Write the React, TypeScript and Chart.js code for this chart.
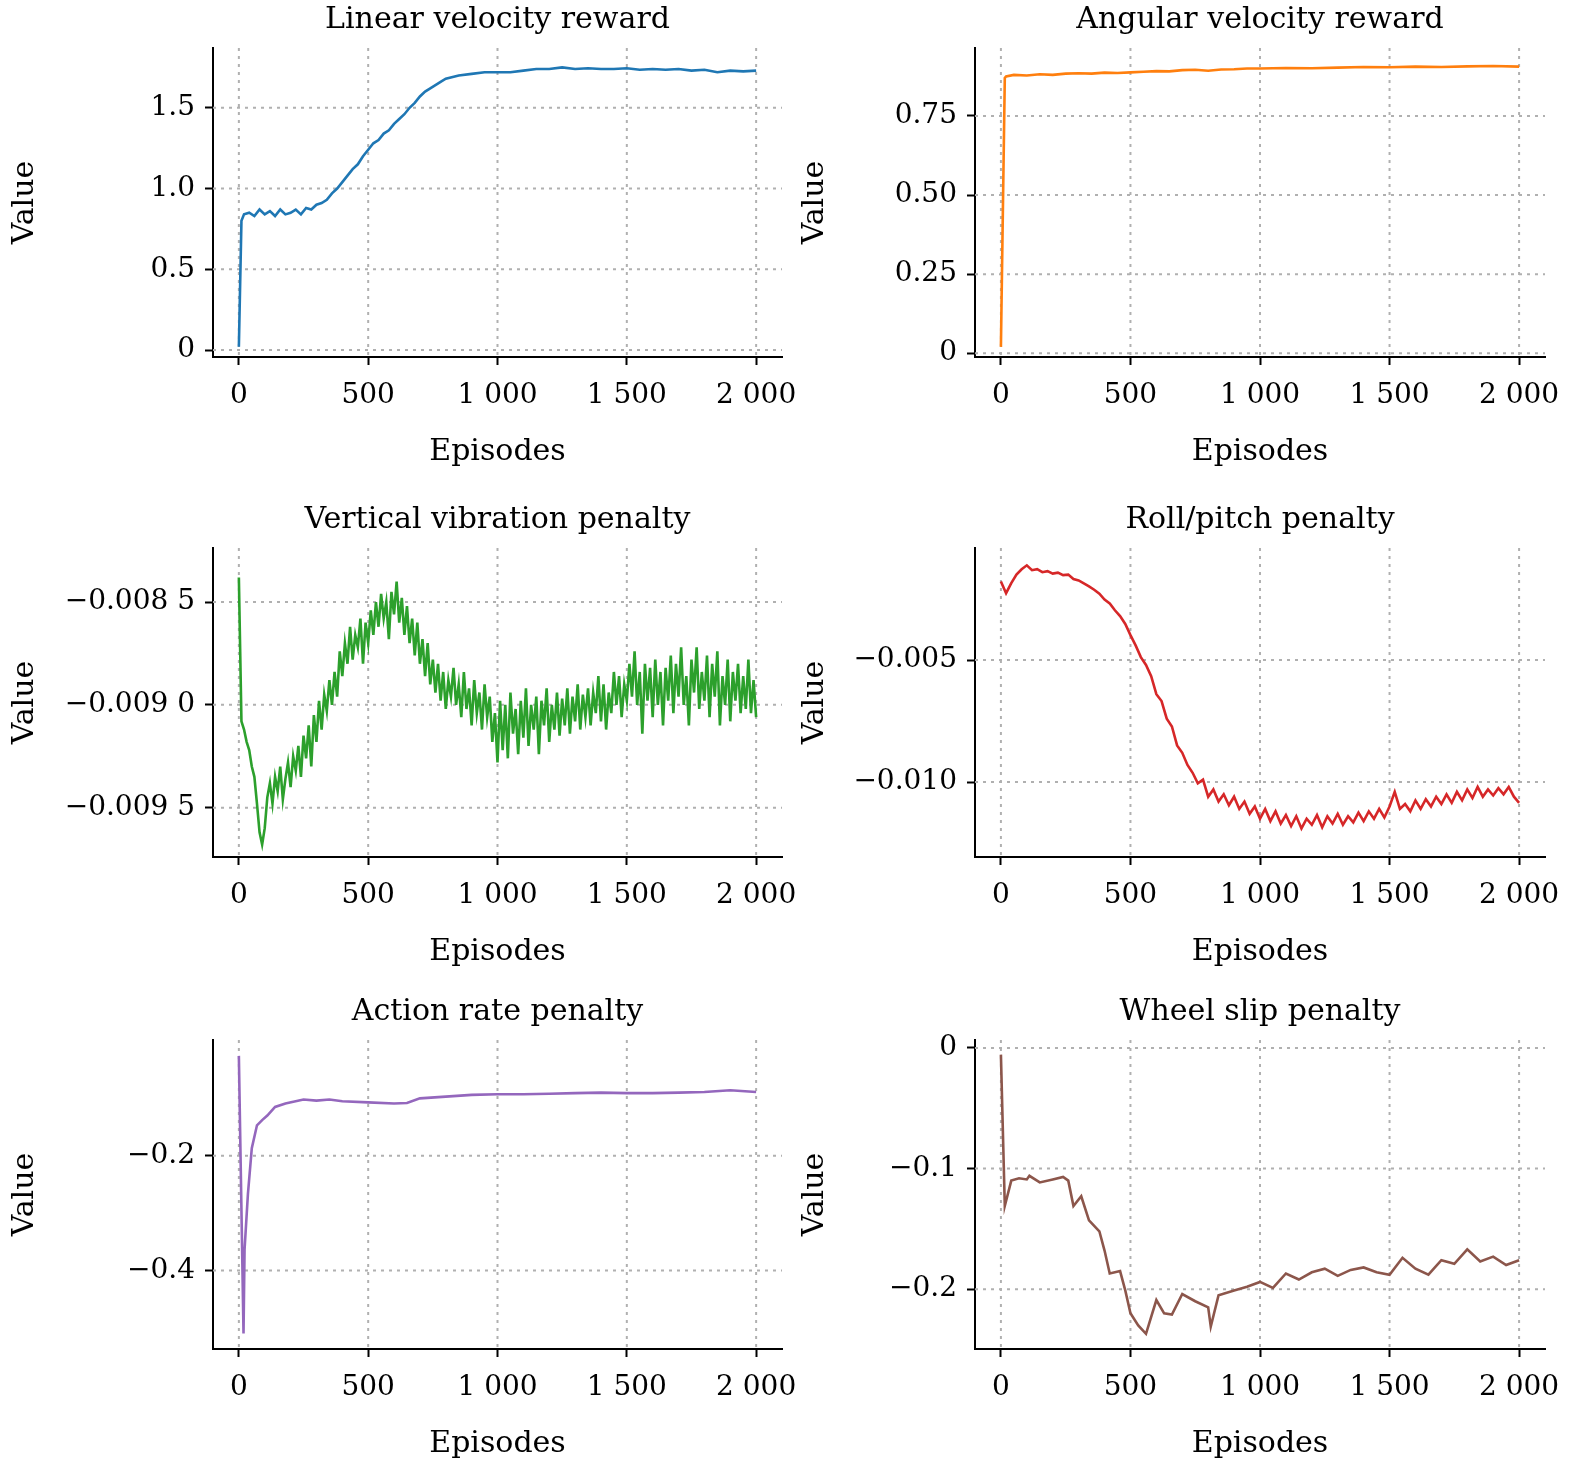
import React, { useEffect, useRef } from "react";
import { Chart, registerables } from "chart.js";
Chart.register(...registerables);

// ---------- data ----------
const X_TICKS = [0, 500, 1000, 1500, 2000];

const linEp = [0, 10, 20, 40, 60, 80, 100, 120, 140, 160, 180, 200, 220, 240, 260, 280, 300, 320, 340, 360, 380, 400, 420, 440, 460, 480, 500, 520, 540, 560, 580, 600, 620, 640, 660, 680, 700, 720, 740, 760, 780, 800, 850, 900, 950, 1000, 1050, 1100, 1150, 1200, 1250, 1300, 1350, 1400, 1450, 1500, 1550, 1600, 1650, 1700, 1750, 1800, 1850, 1900, 1950, 2000];
const linVal = [0.02, 0.8, 0.84, 0.85, 0.83, 0.87, 0.84, 0.86, 0.83, 0.87, 0.84, 0.85, 0.87, 0.84, 0.88, 0.87, 0.9, 0.91, 0.93, 0.97, 1.0, 1.04, 1.08, 1.12, 1.15, 1.2, 1.24, 1.28, 1.3, 1.34, 1.36, 1.4, 1.43, 1.46, 1.5, 1.53, 1.57, 1.6, 1.62, 1.64, 1.66, 1.68, 1.7, 1.71, 1.72, 1.72, 1.72, 1.73, 1.74, 1.74, 1.75, 1.74, 1.745, 1.74, 1.74, 1.745, 1.735, 1.74, 1.735, 1.74, 1.73, 1.735, 1.72, 1.73, 1.725, 1.73];

const angEp = [0, 15, 20, 50, 100, 150, 200, 250, 300, 350, 400, 450, 500, 550, 600, 650, 700, 750, 800, 850, 900, 950, 1000, 1100, 1200, 1300, 1400, 1500, 1600, 1700, 1800, 1900, 2000];
const angVal = [0.02, 0.87, 0.875, 0.88, 0.878, 0.882, 0.88, 0.884, 0.885, 0.884, 0.887, 0.886, 0.888, 0.89, 0.892, 0.891, 0.895, 0.896, 0.893, 0.897, 0.898, 0.9, 0.9, 0.902, 0.901, 0.903, 0.905, 0.904, 0.906, 0.905, 0.907, 0.908, 0.906];

// vertical vibration penalty, units of 1e-5, one value every 10 episodes (0..2000)
const VIB_STEP = 10;
const vibE5 = [
  -838, -908, -912, -918, -922, -930, -935, -948, -962, -968,
  -960, -945, -938, -948, -935, -942, -930, -946, -936, -928,
  -940, -925, -932, -920, -935, -915, -926, -910, -930, -905,
  -918, -898, -912, -895, -903, -888, -900, -884, -896, -874,
  -886, -870, -880, -862, -878, -866, -872, -858, -880, -860,
  -870, -854, -866, -850, -862, -846, -858, -850, -868, -845,
  -856, -840, -860, -848, -866, -852, -870, -858, -876, -860,
  -880, -868, -886, -870, -890, -878, -894, -880, -898, -884,
  -902, -888, -896, -882, -900, -890, -906, -884, -902, -892,
  -910, -888, -904, -894, -912, -890, -906, -896, -918, -904,
  -928, -898, -922, -900, -926, -894, -914, -902, -924, -898,
  -916, -892, -920, -900, -912, -896, -924, -898, -910, -892,
  -918, -900, -912, -894, -915, -897, -910, -892, -914, -896,
  -908, -890, -912, -895, -906, -892, -910, -894, -904, -886,
  -908, -890, -912, -894, -904, -884, -900, -886, -906, -890,
  -898, -880, -896, -874, -900, -884, -914, -880, -898, -882,
  -906, -878, -900, -884, -910, -882, -898, -876, -904, -880,
  -896, -872, -900, -886, -910, -878, -894, -872, -902, -884,
  -898, -876, -906, -880, -896, -874, -910, -886, -900, -878,
  -908, -884, -898, -880, -904, -886, -902, -878, -904, -888,
  -906,
];

// roll/pitch penalty, units of 1e-5, one value every 20 episodes
const ROLL_STEP = 20;
const rollE5 = [
  -178, -226, -185, -150, -128, -112, -132, -128, -140, -136,
  -146, -142, -152, -150, -168, -174, -186, -198, -212, -228,
  -252, -268, -296, -320, -352, -398, -440, -488, -520, -566,
  -640, -668, -740, -772, -850, -880, -930, -962, -1005, -990,
  -1060, -1030, -1080, -1050, -1095, -1060, -1110, -1080, -1130, -1100,
  -1150, -1110, -1160, -1120, -1170, -1135, -1180, -1140, -1190, -1150,
  -1175, -1135, -1185, -1140, -1170, -1130, -1175, -1140, -1165, -1125,
  -1160, -1120, -1150, -1110, -1145, -1100, -1040, -1110, -1090, -1120,
  -1075, -1110, -1070, -1100, -1060, -1090, -1050, -1085, -1040, -1075,
  -1030, -1065, -1020, -1060, -1030, -1055, -1025, -1050, -1020, -1060,
  -1085,
];

const actEp = [0, 18, 22, 35, 50, 70, 90, 110, 140, 180, 250, 300, 350, 400, 500, 600, 650, 700, 800, 900, 1000, 1100, 1200, 1300, 1400, 1500, 1600, 1700, 1800, 1900, 2000];
const actVal = [-0.026, -0.51, -0.364, -0.267, -0.187, -0.147, -0.138, -0.13, -0.115, -0.109, -0.102, -0.104, -0.102, -0.105, -0.107, -0.109, -0.108, -0.1, -0.097, -0.094, -0.093, -0.093, -0.092, -0.091, -0.09, -0.091, -0.091, -0.09, -0.089, -0.086, -0.089];

const slipEp = [0, 15, 40, 70, 100, 110, 150, 200, 240, 260, 280, 310, 340, 380, 400, 420, 460, 480, 500, 530, 560, 580, 600, 630, 660, 700, 750, 800, 810, 840, 900, 950, 1000, 1050, 1100, 1150, 1200, 1250, 1300, 1350, 1400, 1450, 1500, 1550, 1600, 1650, 1700, 1750, 1800, 1850, 1900, 1950, 2000];
const slipVal = [-0.0055, -0.131, -0.11, -0.108, -0.109, -0.106, -0.1115, -0.109, -0.107, -0.11, -0.131, -0.123, -0.143, -0.152, -0.168, -0.187, -0.185, -0.201, -0.22, -0.23, -0.237, -0.223, -0.209, -0.22, -0.221, -0.204, -0.21, -0.215, -0.231, -0.205, -0.201, -0.198, -0.194, -0.199, -0.187, -0.192, -0.186, -0.183, -0.189, -0.184, -0.182, -0.186, -0.188, -0.174, -0.183, -0.188, -0.176, -0.179, -0.167, -0.177, -0.173, -0.18, -0.176];

// ---------- helpers ----------
const FONT = "'DejaVu Serif', 'Liberation Serif', serif";
const minus = (s: string) => s.replace("-", "\u2212");
const fmtEp = (v: number) => (v >= 1000 ? `${Math.floor(v / 1000)} ${String(v % 1000).padStart(3, "0")}` : String(v));

type Panel = {
  title: string; color: string; xs: number[]; ys: number[];
  ymin: number; ymax: number; yticks: number[]; fmt: (v: number) => string;
  left: number; top: number; width: number; padTop: number; yWidth: number; padRight: number;
};

const pairs = (xs: number[], ys: number[]) => ys.map((y, i) => ({ x: xs[i], y }));
const stepXs = (n: number, step: number) => Array.from({ length: n }, (_, i) => i * step);

const panels: Panel[] = [
  { title: "Linear velocity reward", color: "#1f77b4", xs: linEp, ys: linVal, ymin: -0.043, ymax: 1.87, yticks: [0, 0.5, 1, 1.5],
    fmt: (v) => (v === 0 ? "0" : v.toFixed(1)), left: 0, top: 0, width: 810, padTop: 48, yWidth: 213, padRight: 28 },
  { title: "Angular velocity reward", color: "#ff7f0e", xs: angEp, ys: angVal, ymin: -0.012, ymax: 0.965, yticks: [0, 0.25, 0.5, 0.75],
    fmt: (v) => (v === 0 ? "0" : v.toFixed(2)), left: 790, top: 0, width: 785, padTop: 48, yWidth: 185, padRight: 30 },
  { title: "Vertical vibration penalty", color: "#2ca02c", xs: stepXs(vibE5.length, VIB_STEP), ys: vibE5.map((v) => v / 1e5), ymin: -0.00974, ymax: -0.008237, yticks: [-0.0095, -0.009, -0.0085],
    fmt: (v) => { const s = v.toFixed(4); return minus(s.slice(0, -1) + " " + s.slice(-1)); }, left: 0, top: 495, width: 810, padTop: 53, yWidth: 213, padRight: 28 },
  { title: "Roll/pitch penalty", color: "#d62728", xs: stepXs(rollE5.length, ROLL_STEP), ys: rollE5.map((v) => v / 1e5), ymin: -0.01307, ymax: -0.00041, yticks: [-0.01, -0.005],
    fmt: (v) => minus(v.toFixed(3)), left: 790, top: 495, width: 785, padTop: 53, yWidth: 185, padRight: 30 },
  { title: "Action rate penalty", color: "#9467bd", xs: actEp, ys: actVal, ymin: -0.537, ymax: 0.0017, yticks: [-0.4, -0.2],
    fmt: (v) => minus(v.toFixed(1)), left: 0, top: 995, width: 810, padTop: 45, yWidth: 213, padRight: 28 },
  { title: "Wheel slip penalty", color: "#8c564b", xs: slipEp, ys: slipVal, ymin: -0.2496, ymax: 0.0066, yticks: [-0.2, -0.1, 0],
    fmt: (v) => (v === 0 ? "0" : minus(v.toFixed(1))), left: 790, top: 995, width: 785, padTop: 45, yWidth: 185, padRight: 30 },
];

const AREA_H = 309;
const XAXIS_H = 120;

function PanelChart({ p }: { p: Panel }) {
  const ref = useRef<HTMLCanvasElement>(null);
  useEffect(() => {
    const deco = {
      id: "deco",
      beforeDatasetsDraw(chart: any) {
        const { ctx, chartArea: a, scales } = chart;
        ctx.save();
        ctx.strokeStyle = "#b0b0b0";
        ctx.lineWidth = 2;
        ctx.setLineDash([3, 5]);
        X_TICKS.forEach((v) => {
          const x = scales.x.getPixelForValue(v);
          ctx.beginPath(); ctx.moveTo(x, a.top); ctx.lineTo(x, a.bottom); ctx.stroke();
        });
        p.yticks.forEach((v) => {
          const y = scales.y.getPixelForValue(v);
          ctx.beginPath(); ctx.moveTo(a.left, y); ctx.lineTo(a.right, y); ctx.stroke();
        });
        ctx.restore();
      },
      afterDraw(chart: any) {
        const { ctx, chartArea: a } = chart;
        ctx.save();
        ctx.fillStyle = "#000";
        ctx.font = `30px ${FONT}`;
        ctx.textAlign = "center";
        ctx.textBaseline = "middle";
        const cx = (a.left + a.right) / 2;
        ctx.fillText(p.title, cx, a.top - 28);
        ctx.fillText("Episodes", cx, a.bottom + 95);
        ctx.translate(25, (a.top + a.bottom) / 2);
        ctx.rotate(-Math.PI / 2);
        ctx.fillText("Value", 0, 0);
        ctx.restore();
      },
    };
    const chart = new Chart(ref.current!, {
      type: "line",
      data: {
        datasets: [{
          data: pairs(p.xs, p.ys), borderColor: p.color, borderWidth: 2.6,
          pointRadius: 0, tension: 0, fill: false,
        }],
      },
      options: {
        animation: false, responsive: false, maintainAspectRatio: false,
        layout: { padding: { top: p.padTop, right: p.padRight, left: 0, bottom: 0 } },
        plugins: { legend: { display: false }, tooltip: { enabled: false } },
        scales: {
          x: {
            type: "linear", min: -100, max: 2100,
            afterBuildTicks: (s: any) => { s.ticks = X_TICKS.map((value) => ({ value })); },
            afterFit: (s: any) => { s.height = XAXIS_H; s.paddingLeft = 0; s.paddingRight = 0; },
            ticks: { callback: (v: any) => fmtEp(Number(v)), color: "#000", font: { family: FONT, size: 28 }, padding: 14, maxRotation: 0, autoSkip: false },
            grid: { drawOnChartArea: false, drawTicks: true, tickLength: 8, tickWidth: 2, tickColor: "#000" },
            border: { display: true, color: "#000", width: 2 },
          },
          y: {
            type: "linear", min: p.ymin, max: p.ymax,
            afterBuildTicks: (s: any) => { s.ticks = p.yticks.map((value) => ({ value })); },
            afterFit: (s: any) => { s.width = p.yWidth; s.paddingTop = 0; s.paddingBottom = 0; },
            ticks: { callback: (v: any) => p.fmt(Number(v)), color: "#000", font: { family: FONT, size: 28 }, padding: 10, autoSkip: false },
            grid: { drawOnChartArea: false, drawTicks: true, tickLength: 8, tickWidth: 2, tickColor: "#000" },
            border: { display: true, color: "#000", width: 2 },
          },
        },
      },
      plugins: [deco],
    } as any);
    return () => chart.destroy();
  }, [p]);
  const h = p.padTop + AREA_H + XAXIS_H;
  return (
    <canvas ref={ref} width={p.width} height={h}
      style={{ position: "absolute", left: p.left, top: p.top, width: p.width, height: h }} />
  );
}

export default function App() {
  return (
    <div style={{ position: "absolute", left: 0, top: 0, width: 1575, height: 1470, background: "#fff" }}>
      {panels.map((p) => <PanelChart key={p.title} p={p} />)}
    </div>
  );
}
